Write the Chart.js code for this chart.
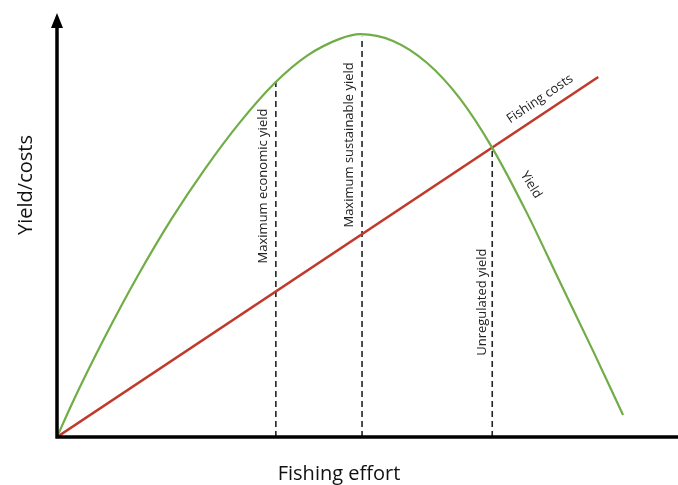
<!DOCTYPE html>
<html>
<head>
<meta charset="utf-8">
<title>Fishing effort</title>
<script src="https://cdn.jsdelivr.net/npm/chart.js@4/dist/chart.umd.min.js"></script>
<style>
    html, body { margin: 0; padding: 0; background: #fff; }
    #wrap { width: 678px; height: 485px; }
</style>
</head>
<body>
<div id="wrap"><canvas id="chart" width="678" height="485"></canvas></div>
<script>
// values (effort 0-100, yield/costs 0-100)
var effort = [0, 2.4, 7.7, 13.1, 18.5, 23.9, 29.5, 35.2, 40.3, 45.6, 48.9, 54.2, 59.7, 65.0, 70.2, 75.8, 81.1, 86.5, 91.3];
var yieldValues = [0, 7.8, 23.5, 38.2, 51.5, 63.3, 74.2, 83.6, 89.9, 93.9, 95.0, 93.4, 88.2, 79.8, 68.2, 52.8, 36.6, 20.2, 5.2];
var costEffort = [0, 87.3];
var costValues = [0, 84.9];
var markerNames = ["Maximum economic yield", "Maximum sustainable yield", "Unregulated yield"];
var markerEffort = [35.3, 49.2, 70.2];
var markerTop = [84.0, 94.4, 68.2];

function toPoints(xs, ys) {
    var points = [];
    for (var i = 0; i < xs.length; i++) {
        points.push({ x: xs[i], y: ys[i] });
    }
    return points;
}

function markerDatasets() {
    var sets = [];
    for (var i = 0; i < markerEffort.length; i++) {
        sets.push({
            label: markerNames[i],
            data: [{ x: markerEffort[i], y: 0 }, { x: markerEffort[i], y: markerTop[i] }],
            borderColor: "#222",
            borderWidth: 1.6,
            borderDash: [6, 4],
            pointRadius: 0
        });
    }
    return sets;
}

var axesAndLabels = {
    id: "axesAndLabels",
    afterDatasetsDraw: function (chart) {
        var ctx = chart.ctx;
        var xs = chart.scales.x;
        var ys = chart.scales.y;
        var x0 = xs.getPixelForValue(0);
        var y0 = ys.getPixelForValue(0);

        ctx.save();
        // axes
        ctx.strokeStyle = "#000";
        ctx.fillStyle = "#000";
        ctx.lineWidth = 3.5;
        ctx.beginPath();
        ctx.moveTo(x0, y0 + 1.5);
        ctx.lineTo(x0, 26);
        ctx.moveTo(x0 - 1.5, y0);
        ctx.lineTo(chart.width, y0);
        ctx.stroke();
        ctx.beginPath();
        ctx.moveTo(x0, 13);
        ctx.lineTo(x0 - 6, 28);
        ctx.lineTo(x0 + 6, 28);
        ctx.closePath();
        ctx.fill();

        // axis titles
        ctx.fillStyle = "#111";
        ctx.textAlign = "center";
        ctx.textBaseline = "alphabetic";
        ctx.font = "20px 'Open Sans'";
        ctx.fillText("Fishing effort", 339, 480);
        ctx.save();
        ctx.translate(32, 185);
        ctx.rotate(-Math.PI / 2);
        ctx.fillText("Yield/costs", 0, 0);
        ctx.restore();

        // vertical marker labels
        ctx.textBaseline = "middle";
        ctx.font = "13px 'Open Sans'";
        ctx.fillStyle = "#222";
        var offsets = [-13, -13, -10];
        var centers = [59.2, 68.9, 31.8];
        for (var i = 0; i < markerNames.length; i++) {
            ctx.save();
            ctx.translate(xs.getPixelForValue(markerEffort[i]) + offsets[i], ys.getPixelForValue(centers[i]));
            ctx.rotate(-Math.PI / 2);
            ctx.fillText(markerNames[i], 0, 0);
            ctx.restore();
        }

        // line labels
        ctx.save();
        ctx.translate(540, 99);
        ctx.rotate(-34 * Math.PI / 180);
        ctx.fillText("Fishing costs", 0, 0);
        ctx.restore();
        ctx.save();
        ctx.translate(531, 185);
        ctx.rotate(58 * Math.PI / 180);
        ctx.fillText("Yield", 0, 0);
        ctx.restore();
        ctx.restore();
    }
};

var config = {
    type: "line",
    data: {
        datasets: [{
            label: "Yield",
            data: toPoints(effort, yieldValues),
            borderColor: "#70ad47",
            borderWidth: 2.2,
            pointRadius: 0,
            cubicInterpolationMode: "monotone"
        }, {
            label: "Fishing costs",
            data: toPoints(costEffort, costValues),
            borderColor: "#c0392b",
            borderWidth: 2.6,
            pointRadius: 0
        }].concat(markerDatasets())
    },
    options: {
        responsive: false,
        animation: false,
        layout: {
            padding: { left: 57, top: 13, right: 1, bottom: 48 }
        },
        scales: {
            x: { type: "linear", min: 0, max: 100, display: false },
            y: { type: "linear", min: 0, max: 100, display: false }
        },
        plugins: {
            legend: { display: false },
            tooltip: { enabled: false }
        }
    },
    plugins: [axesAndLabels]
};

var chart = new Chart(document.getElementById("chart"), config);
</script>
</body>
</html>
